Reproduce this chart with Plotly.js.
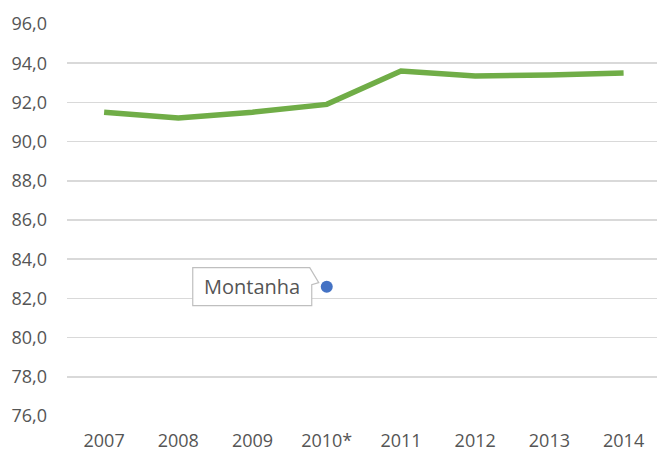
<!DOCTYPE html>
<html>
<head>
<meta charset="utf-8">
<script src="https://cdn.plot.ly/plotly-3.0.1.min.js"></script>
<style>html,body{margin:0;padding:0;background:#fff;}#chart{width:657px;height:453px;}</style>
</head>
<body>
<div id="chart"></div>
<script>
const categories = ["2007", "2008", "2009", "2010*", "2011", "2012", "2013", "2014"];
const greenValues = [91.5, 91.2, 91.5, 91.9, 93.6, 93.35, 93.4, 93.5];
const pointCategory = ["2010*"];
const pointValue = [82.6];
const pointLabel = "Montanha";

const traces = [
  {
    type: "scatter", mode: "lines", x: categories, y: greenValues,
    line: {color: "#70AD47", width: 5.5, shape: "linear"},
    hoverinfo: "skip", showlegend: false
  },
  {
    type: "scatter", mode: "markers", x: pointCategory, y: pointValue,
    marker: {color: "#4472C4", size: 12, line: {width: 0}},
    hoverinfo: "skip", showlegend: false
  }
];

const layout = {
  width: 657, height: 453,
  margin: {l: 67, r: 0, t: 24, b: 37},
  paper_bgcolor: "#fff", plot_bgcolor: "#fff",
  separators: ",.",
  font: {family: "Open Sans, Liberation Sans, sans-serif", size: 18, color: "#555555"},
  xaxis: {
    type: "category", range: [-0.5, 7.45],
    showgrid: false, zeroline: false, showline: false,
    ticks: "", tickfont: {size: 18, color: "#555555"}, ticklabelstandoff: 12,
    fixedrange: true
  },
  yaxis: {
    range: [76, 96], dtick: 2, tick0: 76, tickformat: ".1f",
    showgrid: true, gridcolor: "#d9d9d9", gridwidth: 1.5,
    zeroline: false, showline: false, ticks: "",
    tickfont: {size: 18, color: "#555555"}, ticklabelstandoff: 19,
    fixedrange: true
  },
  shapes: [{
    type: "path", xref: "x", yref: "y",
    xsizemode: "pixel", ysizemode: "pixel",
    xanchor: 3, yanchor: pointValue[0],
    path: "M -134 19 L -17 19 L -8 4 L -15 2 L -15 -19 L -134 -19 Z",
    fillcolor: "#ffffff", line: {color: "#bfbfbf", width: 1.2}, layer: "above"
  }],
  annotations: [{
    x: pointCategory[0], y: pointValue[0], xref: "x", yref: "y",
    text: pointLabel, showarrow: false, xshift: -75, yshift: 0,
    font: {size: 20, color: "#555555"}, xanchor: "center", yanchor: "middle"
  }]
};

Plotly.newPlot("chart", traces, layout, {staticPlot: true, displayModeBar: false});
</script>
</body>
</html>
